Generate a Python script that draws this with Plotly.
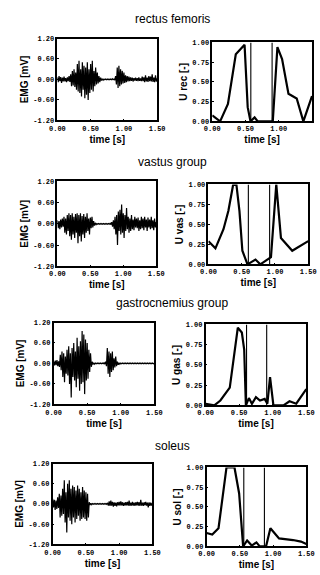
import plotly.graph_objects as go

W, H = 320, 575

titles = ["rectus femoris", "vastus group", "gastrocnemius group", "soleus"]
u_titles = ["U rec [-]", "U vas [-]", "U gas [-]", "U sol [-]"]

emg_tick_vals = [-1.2, -0.6, 0.0, 0.6, 1.2]
emg_tick_text = ["-1.20", "-0.60", "0.00", "0.60", "1.20"]
u_tick_vals = [0.0, 0.25, 0.5, 0.75, 1.0]
u_tick_text = ["0.00", "0.25", "0.50", "0.75", "1.00"]
time_tick_vals = [0.0, 0.5, 1.0, 1.5]
time_tick_text = ["0.00", "0.50", "1.00", "1.50"]

emg_dt = 0.0125  # s between EMG samples

emg_rec = [
    0.06, -0.08, 0.10, -0.05, 0.07, -0.10, 0.05, -0.06,
    0.08, -0.06, 0.04, -0.08, 0.06, -0.05, 0.10, -0.07,
    0.15, -0.20, 0.25, -0.18, 0.30, -0.22, 0.20, -0.30,
    0.45, -0.35, 0.55, -0.40, 0.30, -0.50, 0.50, -0.30,
    0.40, -0.55, 0.35, -0.45, 0.50, -0.60, 0.30, -0.40,
    0.45, -0.30, 0.55, -0.35, 0.25, -0.20, 0.35, -0.15,
    0.20, -0.12, 0.10, -0.08, 0.05, -0.03, 0.02, -0.02,
    0.01, -0.01, 0.01, -0.01, 0.01, -0.01, 0.01, -0.01,
    0.01, -0.01, 0.02, -0.01, 0.01, -0.02, 0.10, -0.15,
    0.35, -0.25, 0.40, -0.20, 0.30, -0.15, 0.25, -0.12,
    0.20, -0.10, 0.12, -0.08, 0.10, -0.06, 0.08, -0.05,
    0.06, -0.04, 0.05, -0.06, 0.04, -0.03, 0.05, -0.04,
    0.04, -0.05, 0.06, -0.04, 0.03, -0.05, 0.08, -0.05,
    0.06, -0.08, 0.12, -0.06, 0.05, -0.07, 0.10, -0.05,
    0.08, -0.06, 0.15, -0.07, 0.05, -0.08, 0.12, -0.06,
    0.03,
]
emg_vas = [
    0.10, -0.12, 0.08, -0.15, 0.12, -0.10, 0.15, -0.08,
    0.20, -0.25, 0.15, -0.30, 0.25, -0.20, 0.30, -0.35,
    0.25, -0.45, 0.30, -0.30, 0.20, -0.40, 0.28, -0.25,
    0.30, -0.55, 0.25, -0.35, 0.30, -0.50, 0.22, -0.30,
    0.28, -0.40, 0.20, -0.25, 0.30, -0.20, 0.15, -0.30,
    0.18, -0.12, 0.20, -0.10, 0.08, -0.05, 0.03, -0.02,
    0.01, -0.01, 0.01, -0.01, 0.01, -0.01, 0.01, -0.01,
    0.01, -0.01, 0.01, -0.01, 0.01, -0.01, 0.01, -0.01,
    0.02, -0.02, 0.05, -0.08, 0.10, -0.15, 0.20, -0.30,
    0.25, -0.60, 0.35, -0.20, 0.40, -0.30, 0.55, -0.25,
    0.30, -0.40, 0.25, -0.20, 0.45, -0.15, 0.20, -0.25,
    0.15, -0.20, 0.25, -0.15, 0.12, -0.18, 0.20, -0.10,
    0.15, -0.12, 0.18, -0.20, 0.10, -0.15, 0.20, -0.12,
    0.15, -0.18, 0.20, -0.10, 0.12, -0.20, 0.18, -0.10,
    0.12, -0.15, 0.20, -0.12, 0.10, -0.18, 0.15, -0.10,
    0.05,
]
emg_gas = [
    0.05, -0.06, 0.08, -0.05, 0.10, -0.08, 0.06, -0.10,
    0.25, -0.20, 0.35, -0.40, 0.30, -0.55, 0.20, -0.30,
    0.40, -0.35, 0.50, -0.60, 0.30, -1.00, 0.45, -0.40,
    0.60, -0.50, 0.35, -0.70, 0.75, -0.45, 0.50, -0.80,
    0.65, -0.60, 0.95, -0.55, 0.85, -0.90, 0.70, -0.50,
    0.60, -0.45, 0.40, -0.25, 0.30, -0.10, 0.05, -0.03,
    0.02, -0.02, 0.01, -0.01, 0.01, -0.01, 0.01, -0.01,
    0.01, -0.01, 0.01, -0.01, 0.02, -0.02, 0.05, -0.08,
    0.45, -0.30, 0.35, -0.40, 0.30, -0.25, 0.35, -0.20,
    0.15, -0.12, 0.20, -0.08, 0.05, -0.04, 0.02, -0.02,
    0.01, -0.01, 0.01, -0.01, 0.01, -0.01, 0.01, -0.01,
    0.01, -0.01, 0.01, -0.01, 0.01, -0.01, 0.01, -0.01,
    0.01, -0.01, 0.01, -0.01, 0.01, -0.01, 0.01, -0.01,
    0.01, -0.01, 0.01, -0.01, 0.01, -0.01, 0.01, -0.01,
    0.01, -0.01, 0.01, -0.01, 0.01, -0.01, 0.01, -0.01,
    0.00,
]
emg_sol = [
    0.15, -0.10, 0.12, -0.18, 0.10, -0.15, 0.20, -0.12,
    0.30, -0.40, 0.25, -0.35, 0.45, -0.30, 0.70, -0.55,
    0.35, -0.85, 0.60, -0.40, 0.70, -0.50, 0.45, -0.60,
    0.55, -0.40, 0.50, -0.55, 0.40, -0.45, 0.55, -0.35,
    0.45, -0.50, 0.35, -0.45, 0.50, -0.40, 0.40, -0.45,
    0.35, -0.50, 0.30, -0.40, 0.05, -0.03, 0.02, -0.02,
    0.01, -0.01, 0.01, -0.01, 0.01, -0.01, 0.01, -0.01,
    0.01, -0.01, 0.01, -0.01, 0.01, -0.01, 0.01, -0.01,
    0.01, -0.01, 0.03, -0.05, 0.08, -0.06, 0.10, -0.05,
    0.06, -0.08, 0.05, -0.06, 0.04, -0.07, 0.05, -0.04,
    0.06, -0.05, 0.08, -0.04, 0.05, -0.06, 0.04, -0.05,
    0.05, -0.04, 0.06, -0.05, 0.10, -0.06, 0.04, -0.05,
    0.06, -0.05, 0.04, -0.06, 0.05, -0.04, 0.06, -0.05,
    0.05, -0.06, 0.12, -0.05, 0.04, -0.06, 0.05, -0.04,
    0.06, -0.05, 0.04, -0.10, 0.05, -0.06, 0.04, -0.05,
    0.02,
]

u_rec_t = [0.0, 0.118, 0.236, 0.354, 0.486, 0.533, 0.575, 0.637, 0.684, 0.91,
           0.98, 1.05, 1.146, 1.27, 1.37, 1.46, 1.5]
u_rec = [0.076, 0.0, 0.22, 0.85, 0.97, 0.18, 0.0, 0.05, 0.0, 0.0,
         0.94, 0.79, 0.35, 0.29, 0.0, 0.22, 0.32]

u_vas_t = [0.0, 0.105, 0.226, 0.30, 0.37, 0.42, 0.466, 0.51, 0.587, 0.707,
           0.78, 0.94, 1.02, 1.09, 1.26, 1.5]
u_vas = [0.29, 0.20, 0.44, 0.67, 0.99, 1.0, 0.67, 0.17, 0.0, 0.06,
         0.0, 0.09, 1.0, 0.33, 0.17, 0.29]

u_gas_t = [0.0, 0.13, 0.22, 0.36, 0.48, 0.54, 0.575, 0.60, 0.645, 0.69,
           0.75, 0.81, 0.88, 0.92, 0.96, 1.01, 1.16, 1.25, 1.35, 1.5]
u_gas = [0.02, 0.0, 0.06, 0.22, 0.96, 0.90, 0.69, 0.0, 0.09, 0.02,
         0.10, 0.06, 0.08, 0.02, 0.35, 0.0, 0.0, 0.05, 0.02, 0.20]

u_sol_t = [0.0, 0.086, 0.18, 0.30, 0.42, 0.49, 0.55, 0.61, 0.68, 0.75,
           0.80, 0.895, 0.96, 1.09, 1.30, 1.42, 1.5]
u_sol = [0.17, 0.15, 0.23, 1.0, 1.0, 0.67, 0.0, 0.075, 0.01, 0.05,
         0.0, 0.0, 0.23, 0.10, 0.08, 0.06, 0.03]

phase_rec = [0.58, 0.90]
phase_vas = [0.60, 0.92]
phase_gas = [0.61, 0.91]
phase_sol = [0.56, 0.87]

emg_all = [emg_rec, emg_vas, emg_gas, emg_sol]
u_all = [(u_rec_t, u_rec), (u_vas_t, u_vas), (u_gas_t, u_gas), (u_sol_t, u_sol)]
phase_all = [phase_rec, phase_vas, phase_gas, phase_sol]

# pixel boxes (x0, x1, ytop, ybottom)
left_box = [(52, 157, 35, 118), (52, 156, 180, 266), (48, 154, 323, 406), (47, 152, 466, 548)]
right_box = [(215, 320, 39, 119), (211, 316, 183, 264), (208, 314, 325, 407), (209, 314, 470, 550)]
title_y = [15, 160, 303, 448]

tick_font = dict(family="Liberation Mono", size=7, color="black", weight="bold")
title_font = dict(family="Liberation Sans", size=10, color="black", weight="bold")

fig = go.Figure()
layout = dict(
    width=W, height=H, margin=dict(l=0, r=0, t=0, b=0),
    paper_bgcolor="white", plot_bgcolor="white", showlegend=False,
)
annotations = []


def axis_common():
    return dict(
        showgrid=False, zeroline=False, showline=True, mirror=True,
        linecolor="black", linewidth=1.5, ticks="inside", ticklen=2,
        tickcolor="black", tickfont=tick_font,
    )


for r in range(4):
    li = 2 * r + 1
    ri = 2 * r + 2
    xl = "x" if li == 1 else f"x{li}"
    yl = "y" if li == 1 else f"y{li}"
    xr = f"x{ri}"
    yr = f"y{ri}"

    emg = emg_all[r]
    t_emg = [i * emg_dt for i in range(len(emg))]
    fig.add_trace(go.Scatter(x=t_emg, y=emg, mode="lines", xaxis=xl, yaxis=yl,
                             line=dict(color="black", width=1.2)))

    ut, uv = u_all[r]
    for p in phase_all[r]:
        fig.add_trace(go.Scatter(x=[p, p], y=[0, 1], mode="lines", xaxis=xr, yaxis=yr,
                                 line=dict(color="black", width=1.1)))
    fig.add_trace(go.Scatter(x=ut, y=uv, mode="lines", xaxis=xr, yaxis=yr,
                             line=dict(color="black", width=2.2)))

    x0, x1, yt, yb = left_box[r]
    xa = axis_common()
    xa.update(domain=[x0 / W, x1 / W], range=[0, 1.5], anchor=yl,
              tickvals=time_tick_vals, ticktext=time_tick_text,
              title=dict(text="time [s]", font=title_font, standoff=4))
    ya = axis_common()
    ya.update(domain=[1 - yb / H, 1 - yt / H], range=[-1.2, 1.2], anchor=xl,
              tickvals=emg_tick_vals, ticktext=emg_tick_text,
              title=dict(text="EMG [mV]", font=title_font, standoff=3))
    layout["xaxis" if li == 1 else f"xaxis{li}"] = xa
    layout["yaxis" if li == 1 else f"yaxis{li}"] = ya

    x0, x1, yt, yb = right_box[r]
    xa = axis_common()
    xa.update(domain=[x0 / W, min(x1 / W, 1.0)], range=[0, 1.5], anchor=yr,
              tickvals=time_tick_vals, ticktext=time_tick_text,
              title=dict(text="time [s]", font=title_font, standoff=4))
    ya = axis_common()
    ya.update(domain=[1 - yb / H, 1 - yt / H], range=[0, 1.0], anchor=xr,
              tickvals=u_tick_vals, ticktext=u_tick_text,
              title=dict(text=u_titles[r], font=title_font, standoff=3))
    layout[f"xaxis{ri}"] = xa
    layout[f"yaxis{ri}"] = ya

    annotations.append(dict(
        text=titles[r], x=173 / W, y=1 - title_y[r] / H, xref="paper", yref="paper",
        showarrow=False, xanchor="center", yanchor="middle",
        font=dict(family="Liberation Sans", size=12, color="black"),
    ))

layout["annotations"] = annotations
fig.update_layout(**layout)
fig.write_html("out.html", config={"displayModeBar": False})

# remove the default page margin so the figure sits at the window's corner
with open("out.html", encoding="utf-8") as f:
    html = f.read()
html = html.replace("<body>", '<body style="margin:0;padding:0;overflow:hidden">', 1)
with open("out.html", "w", encoding="utf-8") as f:
    f.write(html)
